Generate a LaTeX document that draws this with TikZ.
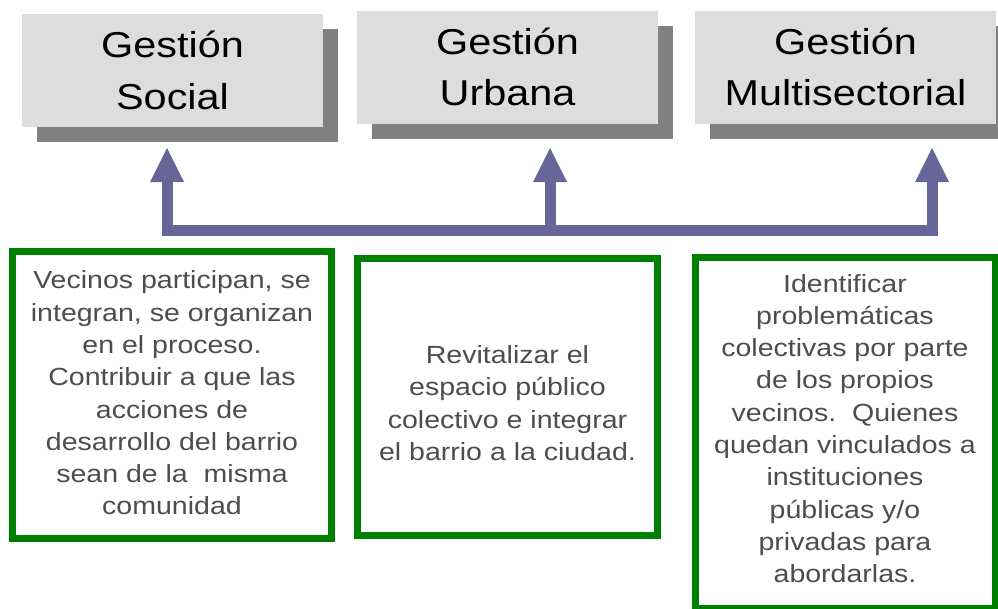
\documentclass[tikz,border=0pt]{standalone}
\usepackage{fontspec}
\setmainfont{Liberation Sans}
\newfontfamily\wfont[FakeStretch=1.15]{Liberation Sans}
\usetikzlibrary{arrows.meta,shadows}
\definecolor{boxgray}{HTML}{DDDDDD}
\definecolor{shadowgray}{HTML}{808080}
\definecolor{arrowblue}{HTML}{666699}
\definecolor{boxgreen}{HTML}{008000}
\definecolor{txtgray}{HTML}{4D4D4D}
\begin{document}
\begin{tikzpicture}[x=1pt,y=-1pt,
  topbox/.style={fill=boxgray, minimum width=301pt, minimum height=113pt, inner sep=0pt,
    align=center, font=\wfont\fontsize{36}{51.5}\selectfont, text=black,
    drop shadow={fill=shadowgray, opacity=1, shadow xshift=15pt, shadow yshift=-15pt}},
  greenbox/.style={draw=boxgreen, line width=7pt, fill=white, inner sep=0pt},
  bodytext/.style={align=center, inner sep=0pt, text=txtgray,
    font=\wfont\fontsize{24.8}{32.3}\selectfont},
  shaft/.style={draw=arrowblue, line width=11pt},
  uptip/.style={-{Triangle[width=34pt,length=34pt,line width=0pt]}}
]
\useasboundingbox (0,0) rectangle (998,608);
\clip (0,0) rectangle (998,608);

% top boxes
\node[topbox] (b1) at (172.5,70.5) {Gestión\\Social};
\node[topbox] (b2) at (507.5,67) {Gestión\\Urbana};
\node[topbox] (b3) at (845.5,67) {Gestión\\Multisectorial};

% green boxes
\node[greenbox, minimum width=319pt, minimum height=287pt] (g1) at (171.5,394.5) {};
\node[greenbox, minimum width=300pt, minimum height=277.5pt] (g2) at (507,396.75) {};
\node[greenbox, minimum width=299.5pt, minimum height=351pt] (g3) at (845.25,433) {};

\node[bodytext] (t1) at (172,393) {Vecinos participan, se\\integran, se organizan\\en el proceso.\\Contribuir a que las\\acciones de\\desarrollo del barrio\\sean de la~~misma\\comunidad};
\node[bodytext] (t2) at (507.5,403) {Revitalizar el\\espacio público\\colectivo e integrar\\el barrio a la ciudad.};
\node[bodytext] (t3) at (845,428.5) {Identificar\\problemáticas\\colectivas por parte\\de los propios\\vecinos.~~Quienes\\quedan vinculados a\\instituciones\\públicas y/o\\privadas para\\abordarlas.};

% connectors
\coordinate (j1) at (167,230);
\coordinate (j2) at (550,230);
\coordinate (j3) at (932,230);
\coordinate (a1) at (167,148);
\coordinate (a2) at (550,148);
\coordinate (a3) at (932,148);
\draw[shaft, line cap=rect] (j1) -- (j3);
\draw[shaft, uptip] (j1) -- (a1);
\draw[shaft, uptip] (j2) -- (a2);
\draw[shaft, uptip] (j3) -- (a3);
\end{tikzpicture}
\end{document}
